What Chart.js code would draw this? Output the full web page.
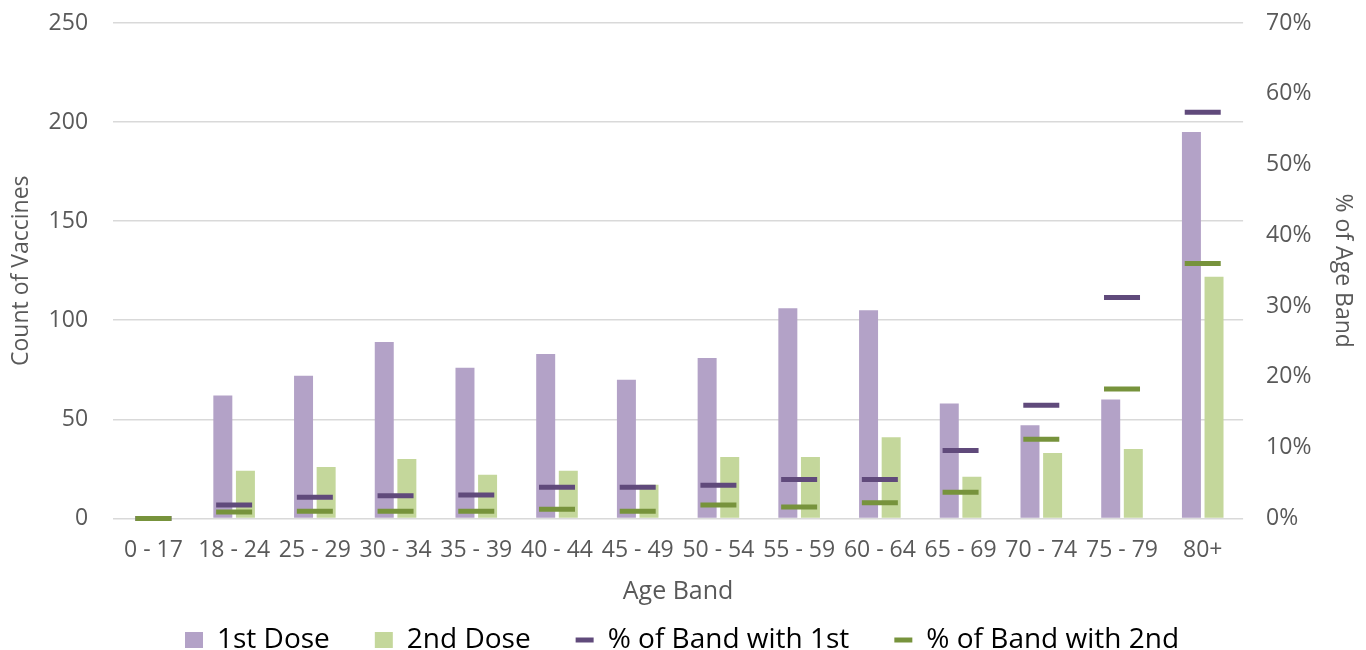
<!DOCTYPE html>
<html>
<head>
<meta charset="utf-8">
<script src="https://cdn.jsdelivr.net/npm/chart.js@4"></script>
<style>
  html, body { margin: 0; padding: 0; background: #fff; }
  #wrap { width: 1366px; height: 650px; }
</style>
</head>
<body>
<div id="wrap"><canvas id="vaccines"></canvas></div>
<script>
// age bands and series
var ageBands = ['0 - 17', '18 - 24', '25 - 29', '30 - 34', '35 - 39', '40 - 44', '45 - 49',
  '50 - 54', '55 - 59', '60 - 64', '65 - 69', '70 - 74', '75 - 79', '80+'];
var firstDose = [0, 62, 72, 89, 76, 83, 70, 81, 106, 105, 58, 47, 60, 195];
var secondDose = [0, 24, 26, 30, 22, 24, 17, 31, 31, 41, 21, 33, 35, 122];
// share of the band, in percent
var pctFirst = [0, 1.9, 3.0, 3.2, 3.3, 4.4, 4.4, 4.7, 5.5, 5.5, 9.6, 16.0, 31.2, 57.4];
var pctSecond = [0, 0.9, 1.0, 1.0, 1.0, 1.3, 1.0, 1.9, 1.6, 2.2, 3.7, 11.2, 18.3, 36.0];

var seriesNames = ['1st Dose', '2nd Dose', '% of Band with 1st', '% of Band with 2nd'];
var countTicks = [0, 50, 100, 150, 200, 250];
var pctTicks = [0, 10, 20, 30, 40, 50, 60, 70];

var PURPLE = '#b3a2c7', GREEN = '#c4d79b';
var PURPLE_DARK = '#604a7b', GREEN_DARK = '#77933c';
var TEXT = '#595959';

Chart.defaults.font.family = "'Open Sans', sans-serif";
Chart.defaults.color = TEXT;

function toFraction(arr) {
  return arr.map(function (v) { return v / 100; });
}

// the wide tick padding should not push the plot down from the top edge
function trimTopPadding(axis) {
  axis.paddingTop = 0;
}

var dashOpts = {
  type: 'line',
  yAxisID: 'y1',
  showLine: false,
  pointStyle: 'line',
  pointRadius: 18,
  pointHoverRadius: 18,
  pointBorderWidth: 5,
  pointHoverBorderWidth: 5,
  clip: false
};

var data = {
  labels: ageBands,
  datasets: [
    { type: 'bar', label: seriesNames[0], data: firstDose, backgroundColor: PURPLE, borderWidth: 0, yAxisID: 'y', order: 2 },
    { type: 'bar', label: seriesNames[1], data: secondDose, backgroundColor: GREEN, borderWidth: 0, yAxisID: 'y', order: 2 },
    Object.assign({ label: seriesNames[2], data: toFraction(pctFirst), borderColor: PURPLE_DARK, backgroundColor: PURPLE_DARK, order: 1 }, dashOpts),
    Object.assign({ label: seriesNames[3], data: toFraction(pctSecond), borderColor: GREEN_DARK, backgroundColor: GREEN_DARK, order: 0 }, dashOpts)
  ]
};

var legendColours = [PURPLE, GREEN, PURPLE_DARK, GREEN_DARK];

var config = {
  type: 'bar',
  data: data,
  options: {
    responsive: true,
    maintainAspectRatio: false,
    animation: false,
    layout: { padding: { top: 20, left: 4, right: 6, bottom: 0 } },
    datasets: { bar: { categoryPercentage: 0.56, barPercentage: 0.84 } },
    plugins: {
      tooltip: { enabled: false },
      legend: {
        position: 'bottom',
        maxHeight: 69,
        labels: {
          usePointStyle: true,
          pointStyleWidth: 18,
          boxHeight: 16,
          padding: 45,
          color: TEXT,
          font: { size: 28 },
          generateLabels: function () {
            return seriesNames.map(function (name, i) {
              var isBar = i < 2;
              return {
                text: name,
                datasetIndex: i,
                fillStyle: legendColours[i],
                strokeStyle: legendColours[i],
                lineWidth: isBar ? 0 : 5,
                pointStyle: isBar ? 'rect' : 'line',
                hidden: false
              };
            });
          }
        }
      }
    },
    scales: {
      x: {
        grid: { display: false },
        border: { display: false },
        ticks: { autoSkip: false, maxRotation: 0, minRotation: 0, padding: 10, font: { size: 23 } },
        title: { display: true, text: 'Age Band', font: { size: 25 }, padding: { top: 3, bottom: -26 } }
      },
      y: {
        position: 'left',
        min: 0,
        max: 250,
        afterBuildTicks: function (axis) {
          axis.ticks = countTicks.map(function (v) { return { value: v }; });
        },
        afterFit: trimTopPadding,
        grid: { color: '#d9d9d9', lineWidth: 1.5, drawTicks: false },
        border: { display: false },
        ticks: { padding: 25, font: { size: 23 } },
        title: { display: true, text: 'Count of Vaccines', font: { size: 23 }, padding: { top: 4, bottom: -12 } }
      },
      y1: {
        position: 'right',
        min: 0,
        max: 0.7,
        afterBuildTicks: function (axis) {
          axis.ticks = pctTicks.map(function (v) { return { value: v / 100 }; });
        },
        afterFit: trimTopPadding,
        grid: { display: false, drawTicks: false },
        border: { display: false },
        ticks: {
          padding: 23,
          font: { size: 23 },
          callback: function (v) { return Math.round(v * 100) + '%'; }
        },
        title: { display: true, text: '% of Age Band', font: { size: 23 }, padding: { top: 4, bottom: -6 } }
      }
    }
  }
};

var vaccineChart = new Chart(document.getElementById('vaccines'), config);
</script>
</body>
</html>
